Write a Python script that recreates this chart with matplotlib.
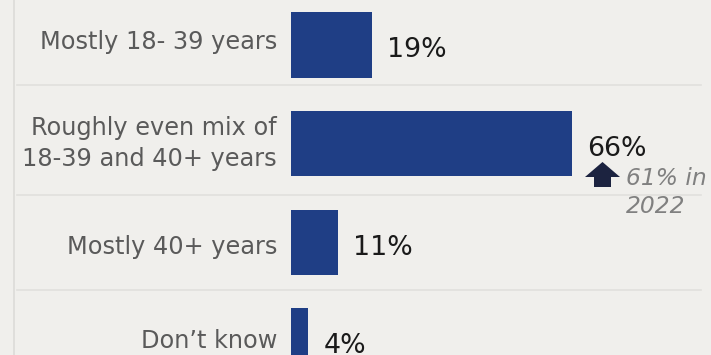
import matplotlib.pyplot as plt
from matplotlib.path import Path

# survey answers, top to bottom
categories = ['Mostly 18- 39 years',
              'Roughly even mix of\n18-39 and 40+ years',
              'Mostly 40+ years',
              'Don\u2019t know']
shares = [19, 66, 11, 4]
value_labels = ['19%', '66%', '11%', '4%']

# comparison note on the "even mix" row
prev_row = 1
prev_note = '61% in\n2022'

BG = '#f0efec'
BAR = '#1f3e85'
GRID = '#e1e0dd'

PX = 0.72  # points per pixel at dpi 100
label_dy = [4, 22.5, 12, 7]   # last-line baseline below bar centre, px
sep_rows = [0.41, 1.525, 2.483]

fig = plt.figure(figsize=(7.11, 3.55), dpi=100, facecolor=BG)
ax = fig.add_axes([0, 0, 1, 1])
ax.set_facecolor(BG)

rows = list(range(len(categories)))
ax.barh(rows, shares, height=0.66, color=BAR, zorder=3)

ax.set_xlim(-68.5, 98.8)
ax.set_ylim(3.142, -0.456)
ax.axis('off')

for y in sep_rows:
    ax.axhline(y, xmin=0.024, xmax=0.986, color=GRID, lw=1.2, zorder=1)
ax.axvline(-65.1, color='#dcdbd8', lw=1.2, zorder=1)

for i, (cat, v, txt) in enumerate(zip(categories, shares, value_labels)):
    ax.annotate(cat, (0, i), xytext=(-14 * PX, -label_dy[i] * PX),
                textcoords='offset points', ha='right', va='baseline',
                fontsize=17.3, color='#5a5a5a', linespacing=1.37)
    ax.annotate(txt, (v, i), xytext=(15.5 * PX, -12.5 * PX),
                textcoords='offset points', ha='left', va='baseline',
                fontsize=19.3, color='#1a1a1a')

# up arrow + note under the 66% label
arrow = Path([(-17.5, -2.5), (0, 12.5), (17.5, -2.5), (8.5, -2.5),
              (8.5, -12.5), (-8.5, -12.5), (-8.5, -2.5), (-17.5, -2.5)],
             [Path.MOVETO] + [Path.LINETO] * 6 + [Path.CLOSEPOLY])
v = shares[prev_row]
ax.plot(v + 30.5 / 4.25, prev_row + 30 / 98.67, marker=arrow,
        markersize=35 * PX, color='#1c2340', markeredgewidth=0, zorder=4)
ax.annotate(prev_note, (v, prev_row), xytext=(54 * PX, -69.5 * PX),
            textcoords='offset points', ha='left', va='baseline',
            fontsize=16.8, style='italic', color='#808080', linespacing=1.29)

plt.savefig('out.png', dpi=100, facecolor=BG)
